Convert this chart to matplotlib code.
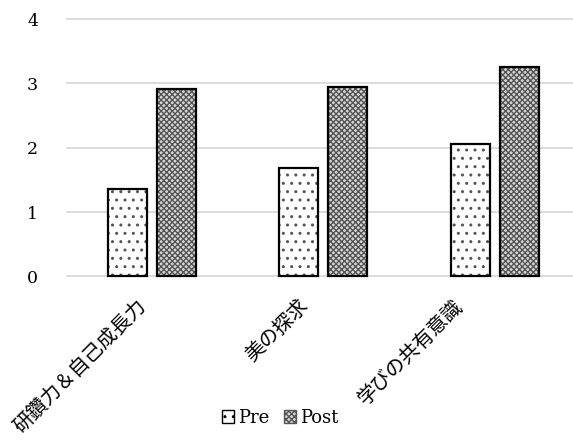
import numpy as np
import matplotlib
matplotlib.use("Agg")
import matplotlib.pyplot as plt
from matplotlib.patches import Patch
from matplotlib.transforms import offset_copy

categories = ["研鑽力＆自己成長力", "美の探求", "学びの共有意識"]
pre_values = [1.36, 1.69, 2.06]
post_values = [2.92, 2.94, 3.26]
y_ticks = [0, 1, 2, 3, 4]

serif = ["DejaVu Serif", "Noto Sans CJK JP"]
jp = ["Noto Sans CJK JP", "DejaVu Sans"]

W, H = 573, 441
fig = plt.figure(figsize=(W / 100, H / 100), dpi=100)

# axes placed in pixel terms: baseline at y=276.5, value 4 at y=19
unit = 64.3
pad = 4
left_px, right_px = 66, 573
bottom_px = 276.5 + pad
top_px = 19 - pad
ax = fig.add_axes([left_px / W, 1 - bottom_px / H,
                   (right_px - left_px) / W, (bottom_px - top_px) / H])
ax.set_ylim(-pad / unit, 4 + pad / unit)
cat_w = 171.5
ax.set_xlim(-0.5, -0.5 + (right_px - left_px) / cat_w)

x = np.arange(len(categories))
bw = 39 / cat_w
off = 24.5 / cat_w

# Pre: white with sparse dots
ax.bar(x - off, pre_values, bw, color="white", edgecolor="#555555",
       hatch="..", linewidth=0, zorder=2)
ax.bar(x - off, pre_values, bw, color="none", edgecolor="black",
       linewidth=1.6, zorder=3)
# Post: fine checkered grey
ax.bar(x + off, post_values, bw, color="#d8d8d8", edgecolor="#555555",
       hatch="xxxxxx", linewidth=0, zorder=2)
ax.bar(x + off, post_values, bw, color="none", edgecolor="black",
       linewidth=1.6, zorder=3)

for v in y_ticks:
    ax.axhline(v, color="#d9d9d9", linewidth=1.3, zorder=1)

ax.set_yticks(y_ticks)
ax.set_yticklabels([str(v) for v in y_ticks], family=serif, fontsize=12.5)
ax.tick_params(axis="y", length=0, pad=20)
ax.set_xticks([])
for s in ax.spines.values():
    s.set_visible(False)

# rotated category labels
shifts = [-16, -26, -42]
for i, name in enumerate(categories):
    tr = offset_copy(ax.get_xaxis_transform(), fig=fig,
                     x=shifts[i] * 0.72, y=-15 * 0.72, units="points")
    ax.text(x[i], 0, name, transform=tr, rotation=45, rotation_mode="anchor",
            ha="right", va="top", family=jp, fontsize=14.3)

handles = [Patch(facecolor="white", edgecolor="black", hatch="..", linewidth=1),
           Patch(facecolor="#d8d8d8", edgecolor="#555555", hatch="xxxxxx", linewidth=1)]
fig.legend(handles, ["Pre", "Post"], loc="center", bbox_to_anchor=(280 / W, 1 - 418 / H),
           ncol=2, frameon=False, prop={"family": serif, "size": 13},
           handlelength=0.7, handleheight=0.7, handletextpad=0.2, columnspacing=0.8)

fig.savefig("out.png", dpi=100)
